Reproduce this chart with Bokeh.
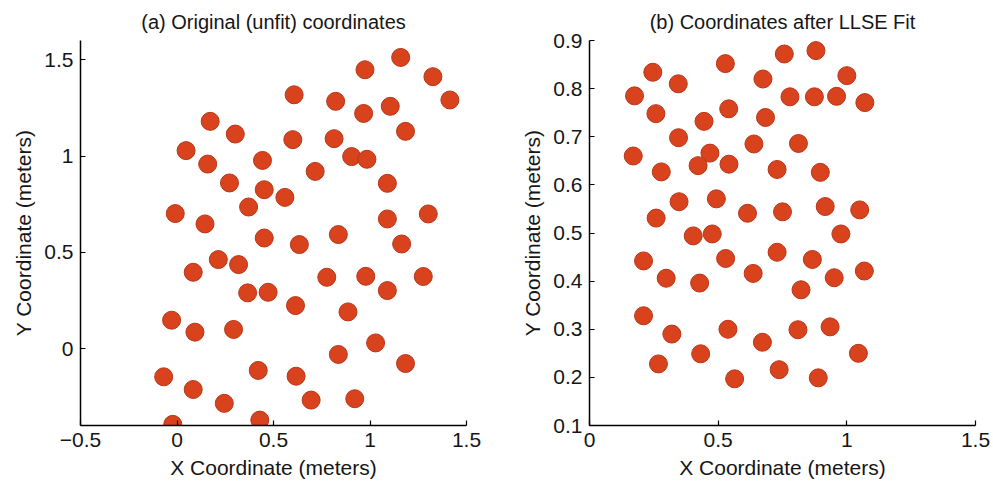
from bokeh.plotting import figure
from bokeh.layouts import row
from bokeh.models import Range1d, FixedTicker, ColumnDataSource
from bokeh.embed import file_html
from bokeh.resources import INLINE

# ---- data: (a) original (unfit) coordinates ----
orig_x = [1.159, 0.974, 1.326, 1.414, 0.607, 0.822, 0.967, 1.105, 0.172, 0.302,
          1.184, 0.600, 0.814, 0.047, 0.159, 0.443, 0.905, 0.984, 0.716, 0.272,
          0.452, 0.559, 1.090, 0.371, -0.009, 0.145, 1.090, 1.302, 0.452, 0.836,
          0.634, 1.164, 0.214, 0.319, 0.084, 0.776, 0.978, 1.276, 1.090, 0.366,
          0.472, 0.614, 0.886, -0.028, 0.093, 0.293, 1.029, 0.836, 1.184, -0.069,
          0.421, 0.617, 0.084, 0.245, 0.695, 0.921, -0.022, 0.429]
orig_y = [1.512, 1.448, 1.412, 1.291, 1.318, 1.284, 1.221, 1.258, 1.180, 1.114,
          1.128, 1.085, 1.090, 1.028, 0.958, 0.977, 0.997, 0.983, 0.920, 0.860,
          0.825, 0.785, 0.858, 0.735, 0.701, 0.647, 0.673, 0.699, 0.574, 0.592,
          0.540, 0.543, 0.462, 0.436, 0.396, 0.370, 0.375, 0.374, 0.301, 0.289,
          0.292, 0.223, 0.190, 0.147, 0.085, 0.099, 0.029, -0.031, -0.078, -0.147,
          -0.114, -0.144, -0.213, -0.285, -0.268, -0.261, -0.394, -0.372]

# ---- data: (b) coordinates after LLSE fit ----
fit_x = [0.880, 0.757, 0.528, 0.246, 0.345, 0.674, 1.000, 0.175, 0.779, 0.874,
         0.960, 1.070, 0.258, 0.541, 0.445, 0.684, 0.346, 0.639, 0.812, 0.170,
         0.468, 0.422, 0.542, 0.279, 0.729, 0.897, 0.348, 0.493, 0.259, 0.614,
         0.750, 0.916, 1.050, 0.403, 0.477, 0.977, 0.210, 0.529, 0.729, 0.866,
         0.298, 0.428, 0.636, 0.951, 1.068, 0.822, 0.210, 0.320, 0.538, 0.810,
         0.935, 0.672, 0.268, 0.432, 1.045, 0.564, 0.737, 0.889]
fit_y = [0.879, 0.872, 0.852, 0.834, 0.810, 0.820, 0.827, 0.785, 0.783, 0.783,
         0.784, 0.771, 0.748, 0.758, 0.732, 0.740, 0.698, 0.685, 0.686, 0.660,
         0.666, 0.640, 0.643, 0.627, 0.632, 0.626, 0.565, 0.571, 0.531, 0.541,
         0.544, 0.555, 0.548, 0.494, 0.498, 0.498, 0.442, 0.447, 0.460, 0.445,
         0.406, 0.396, 0.416, 0.407, 0.421, 0.382, 0.328, 0.290, 0.300, 0.299,
         0.305, 0.273, 0.228, 0.249, 0.250, 0.197, 0.216, 0.199]

# ---- axis ticks / labels ----
a_xticks = [-0.5, 0, 0.5, 1, 1.5]
a_xlabels = ["\u22120.5", "0", "0.5", "1", "1.5"]
a_yticks = [0, 0.5, 1, 1.5]
a_ylabels = ["0", "0.5", "1", "1.5"]
b_xticks = [0, 0.5, 1, 1.5]
b_xlabels = ["0", "0.5", "1", "1.5"]
b_yticks = [0.1, 0.2, 0.3, 0.4, 0.5, 0.6, 0.7, 0.8, 0.9]
b_ylabels = ["0.1", "0.2", "0.3", "0.4", "0.5", "0.6", "0.7", "0.8", "0.9"]

titles = ["(a) Original (unfit) coordinates", "(b) Coordinates after LLSE Fit"]
xlabel = "X Coordinate (meters)"
ylabel = "Y Coordinate (meters)"

FONT = "Liberation Sans"
TXT = "#161616"
DOT = "#D8421C"
EDGE = "#B8361A"


def make(title, xs, ys, xr, yr, xt, xl, yt, yl, width, left, right):
    p = figure(width=width, height=488, x_range=Range1d(*xr), y_range=Range1d(*yr),
               output_backend="svg", toolbar_location=None, title=title,
               min_border_left=left, min_border_right=right,
               min_border_top=40, min_border_bottom=63)
    p.title.align = "center"
    p.title.text_font = FONT
    p.title.text_font_size = "20px"
    p.title.text_font_style = "normal"
    p.title.text_color = TXT
    p.title.offset = 0
    p.title.standoff = 15
    p.grid.visible = False
    p.outline_line_color = None
    p.background_fill_color = "white"
    for ax, ticks, labels, lab in ((p.xaxis[0], xt, xl, xlabel), (p.yaxis[0], yt, yl, ylabel)):
        ax.ticker = FixedTicker(ticks=ticks)
        ax.major_label_overrides = {t: s for t, s in zip(ticks, labels)}
        ax.axis_label = lab
        ax.axis_label_text_font = FONT
        ax.axis_label_text_font_size = "21px"
        ax.axis_label_text_font_style = "normal"
        ax.axis_label_text_color = TXT
        ax.major_label_text_font = FONT
        ax.major_label_text_font_size = "21px"
        ax.major_label_text_color = TXT
        ax.axis_line_color = "black"
        ax.axis_line_width = 1.5
        ax.major_tick_in = 5
        ax.major_tick_out = 0
        ax.major_tick_line_width = 1.2
        ax.major_tick_line_color = "black"
        ax.minor_tick_line_color = None
        ax.major_label_standoff = 7
        ax.axis_label_standoff = 6
    src = ColumnDataSource(dict(x=xs, y=ys))
    p.scatter("x", "y", source=src, marker="circle", size=18,
              fill_color=DOT, line_color=EDGE, line_width=1)
    return p


p1 = make(titles[0], orig_x, orig_y, (-0.5, 1.5), (-0.4, 1.6),
          a_xticks, a_xlabels, a_yticks, a_ylabels, 496, 80, 30)
p2 = make(titles[1], fit_x, fit_y, (0, 1.5), (0.1, 0.9),
          b_xticks, b_xlabels, b_yticks, b_ylabels, 497, 93, 18)

p = row(p1, p2, spacing=0)
open("out.html", "w").write(file_html(p, INLINE))
